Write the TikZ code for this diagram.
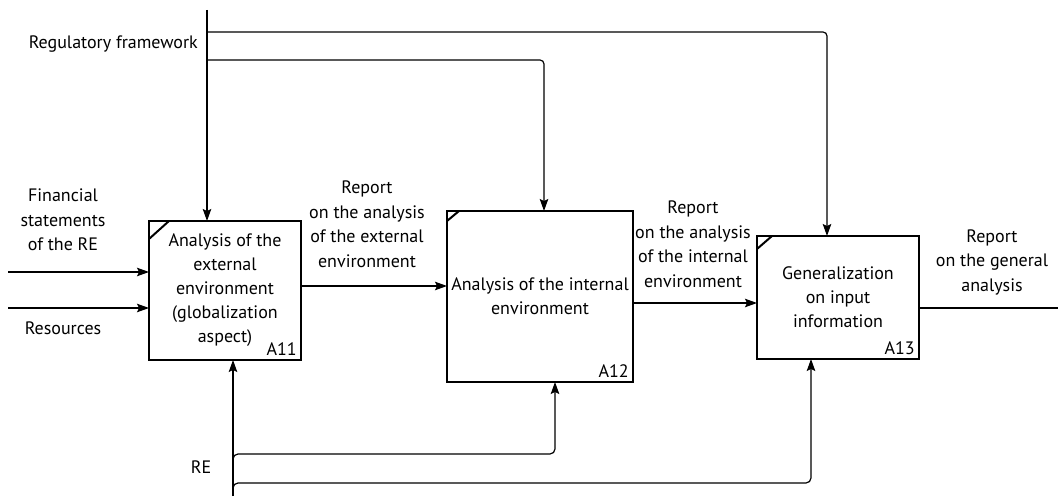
\documentclass[tikz,border=0pt]{standalone}
\usepackage{fontspec}
\setmainfont{PT Sans}
\usetikzlibrary{arrows.meta,calc}
\tikzset{
  func/.style={draw, line width=2.6pt, inner sep=0pt, outer sep=0pt, align=center,
    font=\fontsize{18}{24}\selectfont},
  lbl/.style={align=center, inner sep=0pt, font=\fontsize{18}{24.5}\selectfont},
  code/.style={anchor=south east, inner sep=0pt, font=\fontsize{18}{20}\selectfont},
  arr/.style={line width=1.2pt, -{Stealth[length=12pt,width=8.5pt,inset=2pt]}},
  wire/.style={line width=1.2pt},
  cornertick/.style={line width=2pt}
}
\begin{document}
\begin{tikzpicture}[x=1pt,y=-1pt]
\useasboundingbox (0,0) rectangle (1058,497);

% activity boxes
\node[func, minimum width=152pt, minimum height=139pt] (A11) at (225,290.5)
  {Analysis of the\\external\\environment\\(globalization\\aspect)};
\node[func, minimum width=186pt, minimum height=171pt] (A12) at (540,296.5)
  {Analysis of the internal\\environment};
\node[func, minimum width=162pt, minimum height=123pt] (A13) at (838,297.5)
  {Generalization\\on input\\information};

\node[code] (c11) at ([xshift=-4pt,yshift=4pt]A11.south east) {A11};
\node[code] (c12) at ([xshift=-4pt,yshift=4pt]A12.south east) {A12};
\node[code] (c13) at ([xshift=-4pt,yshift=4pt]A13.south east) {A13};

% corner ticks
\draw[cornertick] ([yshift=-18pt]A11.north west) -- ([xshift=20pt]A11.north west);
\draw[cornertick] ([yshift=-10pt]A12.north west) -- ([xshift=12pt]A12.north west);
\draw[cornertick] ([yshift=-13pt]A13.north west) -- ([xshift=15pt]A13.north west);

% labels
\node[lbl, anchor=east] (reg) at (198,44) {Regulatory framework};
\node[lbl] (fin) at (63,220) {Financial\\statements\\of the RE};
\node[lbl] (res) at (63,328) {Resources};
\node[lbl] (out1) at (367,224) {Report\\on the analysis\\of the external\\environment};
\node[lbl] (out2) at (693,244) {Report\\on the analysis\\of the internal\\environment};
\node[lbl] (out3) at (992,262) {Report\\on the general\\analysis};
\node[lbl] (re) at (201,467) {RE};

% controls
\coordinate (regtop) at (207,10);
\coordinate (k13) at (827,32);
\coordinate (k12) at (544,60);
\draw[arr] (regtop) -- (regtop |- A11.north);
\draw[arr, rounded corners=4pt] (regtop |- k13) -- (k13) -- (k13 |- A13.north);
\draw[arr, rounded corners=4pt] (regtop |- k12) -- (k12) -- (k12 |- A12.north);

% inputs
\coordinate (in1) at (8,272);
\coordinate (in2) at (8,308);
\draw[arr] (in1) -- (in1 -| A11.west);
\draw[arr] (in2) -- (in2 -| A11.west);

% outputs
\draw[arr] ([yshift=4.5pt]A11.east) -- ([yshift=4.5pt]A11.east -| A12.west);
\draw[arr] ([yshift=-6.5pt]A12.east) -- ([yshift=-6.5pt]A12.east -| A13.west);
\coordinate (outend) at (1058,308);
\draw[wire] (outend -| A13.east) -- (outend);

% mechanisms
\coordinate (rebot) at (233,496);
\coordinate (m12) at (555,454);
\coordinate (m13) at (811,483);
\draw[arr] (rebot) -- (rebot |- A11.south);
\draw[arr, rounded corners=5pt] ($(rebot |- m12)+(0,8)$) -- (rebot |- m12) -- (m12) -- (m12 |- A12.south);
\draw[arr, rounded corners=5pt] ($(rebot |- m13)+(0,8)$) -- (rebot |- m13) -- (m13) -- (m13 |- A13.south);
\end{tikzpicture}
\end{document}
